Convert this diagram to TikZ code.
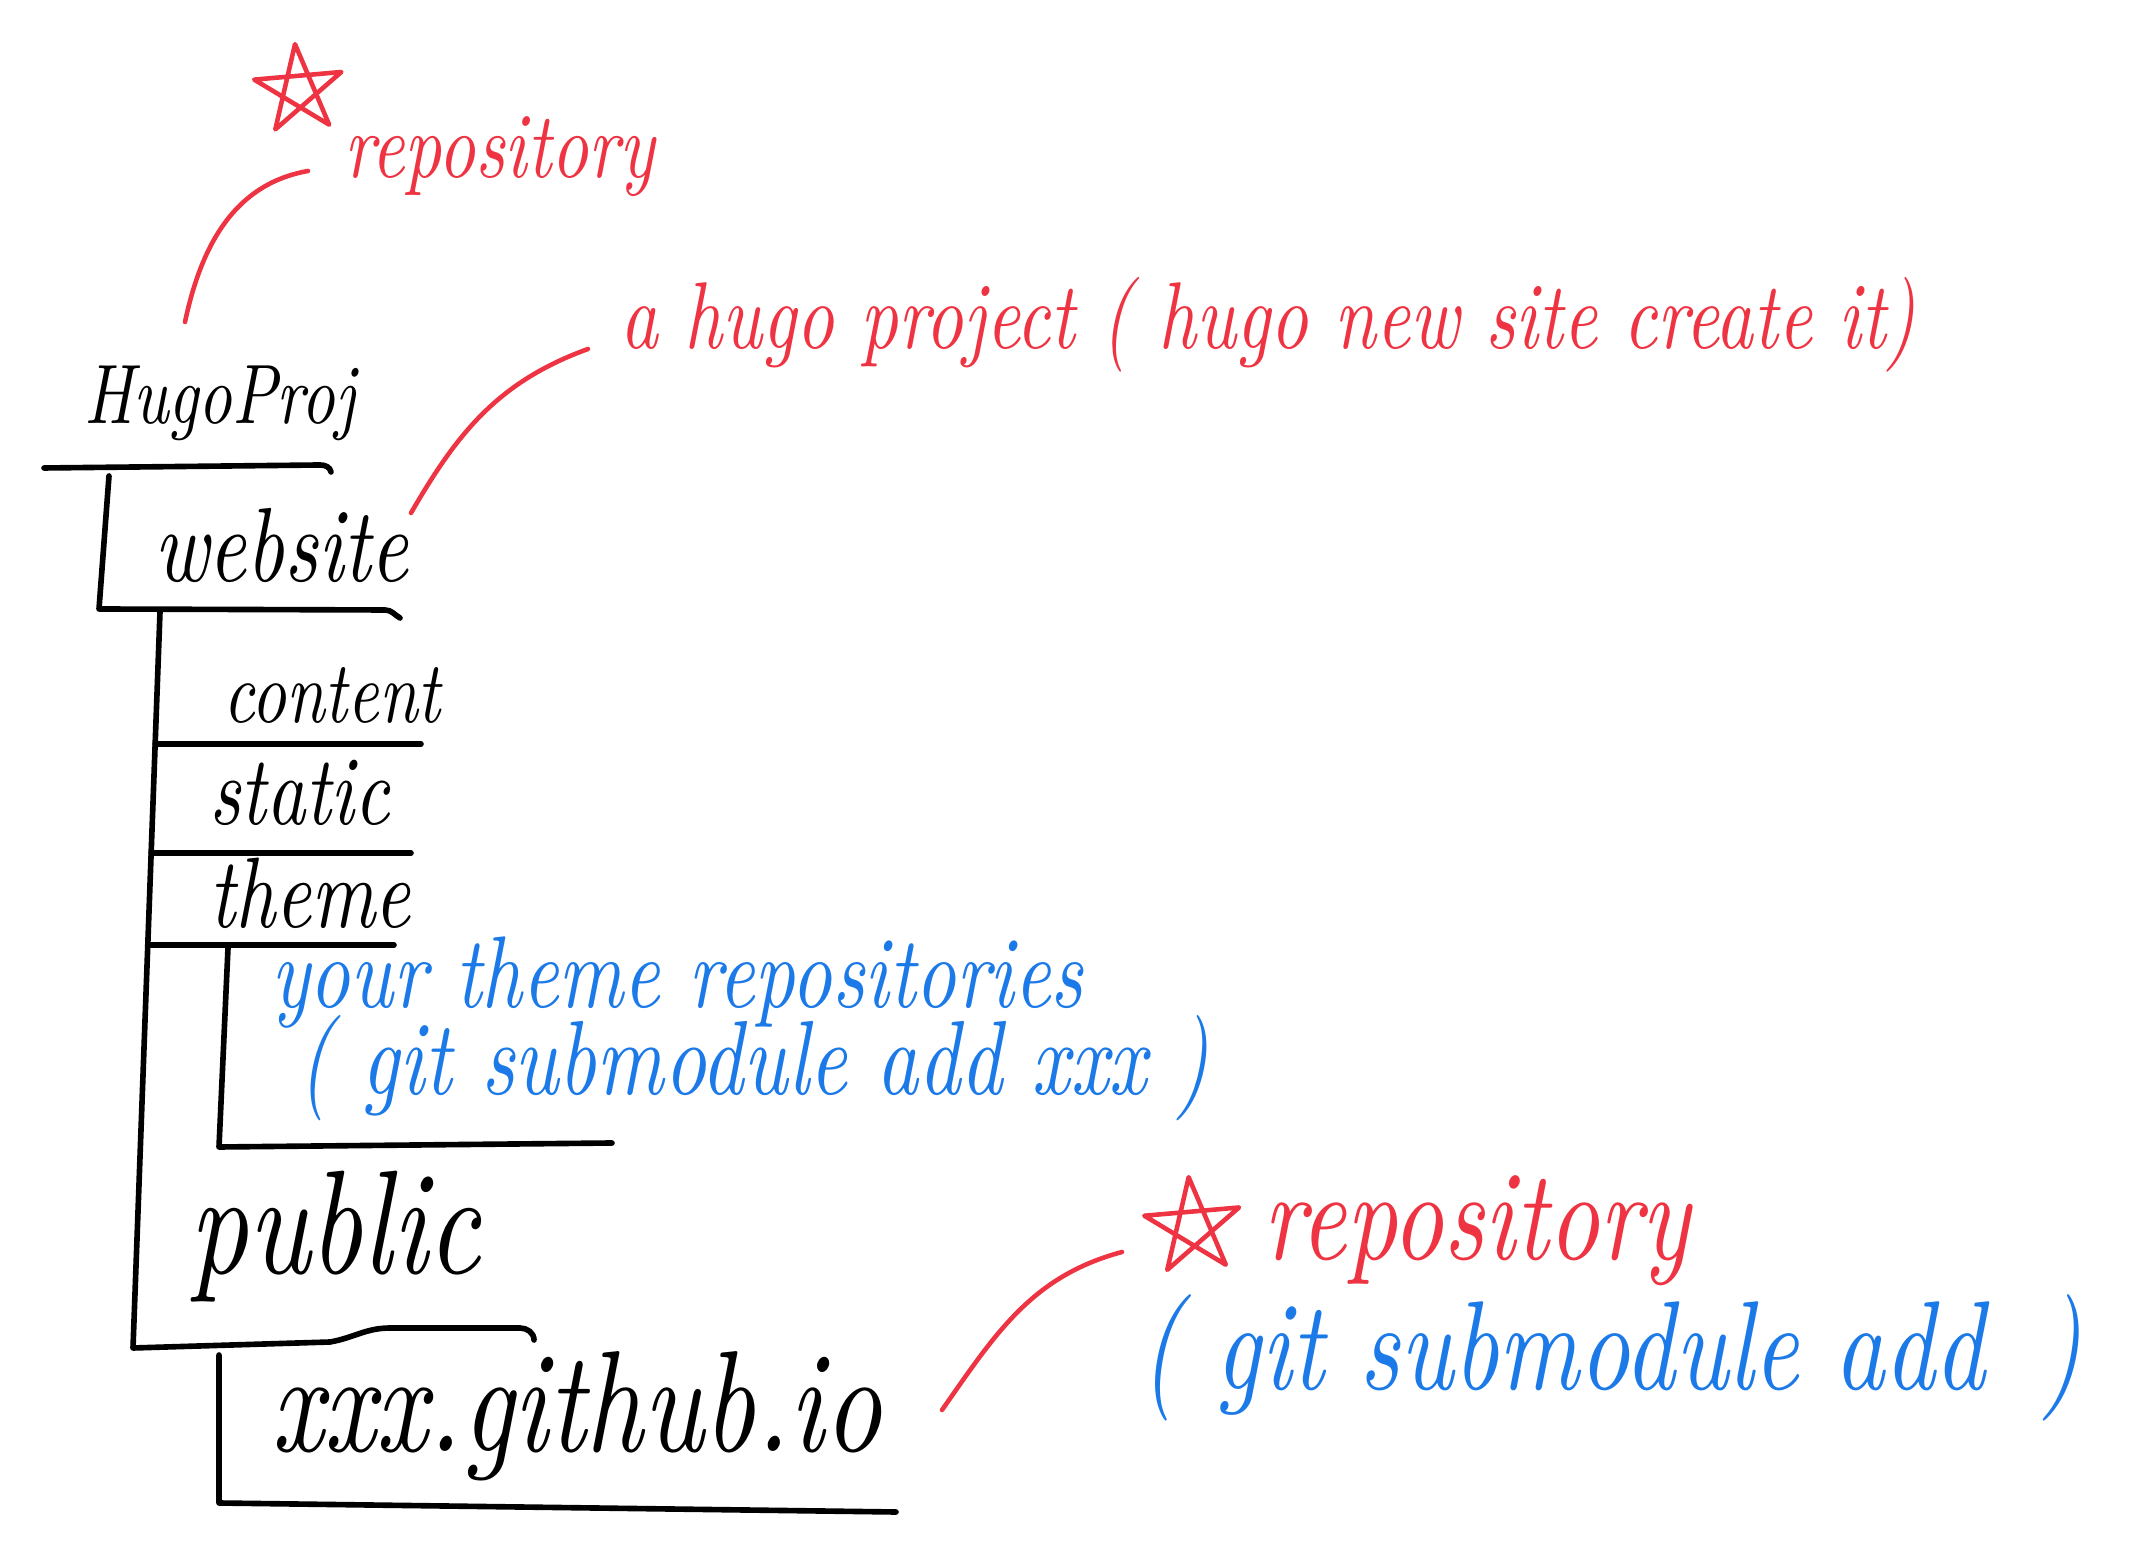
\documentclass[tikz,border=0pt]{standalone}
\usepackage{fontspec}
\newfontfamily\handfont{lmroman10-italic}[Extension=.otf,FakeStretch=0.78]
\definecolor{penred}{RGB}{238,52,66}
\definecolor{penblue}{RGB}{28,122,232}
\tikzset{
  treeline/.style={line width=1.6pt},
  pointer/.style={line width=1.3pt,penred},
  dirname/.style={anchor=base west,font=\handfont\fontsize{#1}{#1}\selectfont},
  rednote/.style={dirname=#1,text=penred},
  bluenote/.style={dirname=#1,text=penblue},
}

\begin{document}
\begin{tikzpicture}[line cap=round,line join=round,every node/.style={inner sep=1pt}]
  \useasboundingbox (0,0) rectangle (21.46,15.62);
  \node[dirname=24] (hugoproj) at (0.80,11.38) {HugoProj};
  \node[dirname=30] (website) at (1.50,9.80) {website};
  \node[dirname=25] (content) at (2.19,8.39) {content};
  \node[dirname=28] (static) at (2.05,7.37) {static};
  \node[dirname=28.5] (theme) at (2.05,6.34) {theme};
  \node[dirname=42] (public) at (1.85,2.89) {public};
  \node[dirname=41] (github) at (2.67,1.11) {xxx.github.io};
  \node[bluenote=29] (themerepo) at (2.67,5.54) {your theme repositories};
  \node[bluenote=30] (themecmd) at (2.94,4.67) {( git submodule add xxx )};
  \node[rednote=26.5] (reponote) at (3.40,13.84) {repository};
  \node[rednote=27] (hugonote) at (6.16,12.13) {a hugo project ( hugo new site create it)};
  \node[rednote=36.5] (pubnote) at (12.59,3.03) {repository};
  \node[bluenote=36] (pubcmd) at (11.36,1.73) {( git submodule add\hspace{16pt})};
  \draw[treeline] (0.44,10.94) -- (3.20,10.97) to[out=0,in=100] (3.31,10.90);
  \draw[treeline] (1.09,10.86) -- (0.99,9.53) -- (3.85,9.52) to[out=0,in=150] (4.00,9.44);
  \draw[treeline] (1.60,9.50) -- (1.33,2.14) -- (3.30,2.20) to[out=10,in=180] (3.90,2.34) -- (5.20,2.34) to[out=0,in=90] (5.34,2.22);
  \foreach \y/\r in {8.18/4.21,7.09/4.11,6.17/3.94} {
    \draw[treeline] ({1.60-0.0367*(9.50-\y)},\y) -- (\r,\y);
  }
  \draw[treeline] (2.28,6.14) -- (2.19,4.15) -- (6.12,4.19);
  \draw[treeline] (2.19,2.07) -- (2.19,0.59) -- (8.96,0.50);
  \coordinate (star1) at (2.99,14.72);
  \coordinate (star2) at (11.93,3.35);
  \foreach \s/\r in {star1/0.46,star2/0.5} {
    \draw[pointer] (\s) +(95:\r) -- +(239:\r) -- +(23:\r) -- +(167:\r) -- +(311:\r) -- cycle;
  }
  \draw[pointer] ([shift={(1.05,1.02)}]hugoproj.base west) to[out=78,in=190] ([shift={(-0.32,0.07)}]reponote.base west);
  \draw[pointer] ([shift={(2.61,0.69)}]website.base west) to[out=60,in=200] ([shift={(-0.28,0)}]hugonote.base west);
  \draw[pointer] ([shift={(6.75,0.41)}]github.base west) to[out=55,in=195] ([shift={(-0.71,-0.25)}]star2);
\end{tikzpicture}
\end{document}
